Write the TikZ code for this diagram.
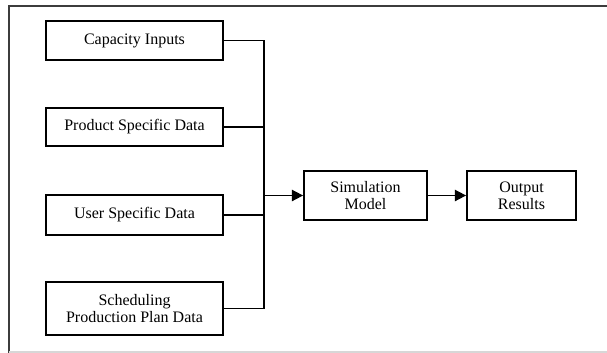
\documentclass[tikz,border=0pt]{standalone}
\usepackage{fontspec}
\setmainfont{Liberation Serif}
\usetikzlibrary{arrows.meta}

\begin{document}
\begin{tikzpicture}[x=0.75pt,y=0.75pt,yscale=-1,xscale=1,
  databox/.style={draw, line width=1.3pt, rectangle, inner sep=0.75pt, align=center,
    font=\fontsize{12}{13}\selectfont},
  feed/.style={line width=0.9pt},
  flow/.style={line width=1.2pt, -{Triangle[length=8.5pt,width=8.5pt]}}]
\useasboundingbox (0,0) rectangle (607,353);

%Frame
\draw [line width=1.2pt, color={rgb, 255:red, 60; green, 60; blue, 60 }]  (607,6) -- (9,6) -- (9,353) ;
\draw [line width=0.8pt, color={rgb, 255:red, 215; green, 215; blue, 215 }]  (9,352) -- (607,352) ;

% Input boxes
\node (cap) [databox, minimum width=132.75pt, minimum height=29.25pt] at (134.5,40.5) {Capacity Inputs};
\node (prod) [databox, minimum width=132.75pt, minimum height=28.5pt] at (134.5,127) {Product Specific Data};
\node (user) [databox, minimum width=132.75pt, minimum height=30pt] at (134.5,215) {User Specific Data};
\node (sched) [databox, minimum width=132.75pt, minimum height=39.75pt] at (134.5,308.5) {Scheduling\\Production Plan Data};

% Model and results
\node (sim) [databox, minimum width=92.25pt, minimum height=36.75pt] at (365.5,195.5) {Simulation\\Model};
\node (out) [databox, minimum width=81.75pt, minimum height=36.75pt] at (521.5,195.5) {Output\\Results};

%Collecting line
\coordinate (bus) at (264,195.5);
\draw [feed]  (cap.east) -| (bus) ;
\draw [feed]  (prod.east) -| (bus) ;
\draw [feed]  (user.east) -| (bus) ;
\draw [feed]  (sched.east) -| (bus) ;

%Arrows
\draw [flow]  (bus) -- (sim.west) ;
\draw [flow]  (sim.east) -- (out.west) ;

\end{tikzpicture}
\end{document}
